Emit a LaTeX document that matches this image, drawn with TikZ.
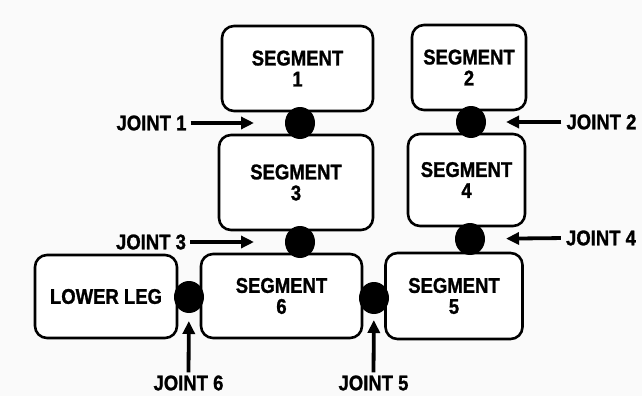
\documentclass[tikz,border=0pt]{standalone}
\usepackage{fontspec}
\usepackage{graphicx}
\setmainfont{Liberation Sans}
\newfontfamily\heavyfont[FakeBold=1.2]{Liberation Sans Bold}
\usetikzlibrary{arrows.meta,shapes.geometric}
\newcommand{\tallt}[1]{\scalebox{1}[1.15]{#1}}
\begin{document}
\begin{tikzpicture}[x=1pt,y=-1pt,
  seg/.style={draw=black,line width=2.6pt,rounded corners=12pt,fill=white,
    inner sep=0pt,align=center,font=\fontsize{18.5}{21}\selectfont\heavyfont},
  joint/.style={ellipse,fill=black,draw=none,inner sep=0pt,minimum width=30pt,minimum height=32pt},
  jlab/.style={inner sep=0pt,font=\fontsize{18.5}{21}\selectfont\heavyfont},
  jarrow/.style={line width=3.8pt,-{Triangle[length=13pt,width=12pt]}}]
\useasboundingbox[fill=gray!4] (0,0) rectangle (642,396);
% segments
\node[seg,minimum width=151pt,minimum height=85pt] (s1) at (297.5,68.5) {\tallt{SEGMENT}\\\tallt{1}};
\node[seg,minimum width=114pt,minimum height=85pt] (s2) at (469,67.5) {\tallt{SEGMENT}\\\tallt{2}};
\node[seg,minimum width=154pt,minimum height=95pt] (s3) at (296,182.5) {\tallt{SEGMENT}\\\tallt{3}};
\node[seg,minimum width=117pt,minimum height=92pt] (s4) at (466.5,180) {\tallt{SEGMENT}\\\tallt{4}};
\node[seg,minimum width=161pt,minimum height=84pt] (s6) at (281.5,296) {\tallt{SEGMENT}\\\tallt{6}};
\node[seg,minimum width=137pt,minimum height=86pt] (s5) at (454,296) {\tallt{SEGMENT}\\\tallt{5}};
\node[seg,minimum width=142pt,minimum height=83pt] (ll) at (106,296.5) {\tallt{LOWER LEG}};
% joints
\node[joint] (d1) at (300,123) {};
\node[joint] (d2) at (471,122) {};
\node[joint] (d3) at (300,242) {};
\node[joint] (d4) at (470,239) {};
\node[joint] (d5) at (374,298) {};
\node[joint] (d6) at (189,297) {};
% joint labels
\node[jlab] (l1) at (151.5,123) {\tallt{JOINT 1}};
\node[jlab] (l2) at (601.5,122) {\tallt{JOINT 2}};
\node[jlab] (l3) at (151,242) {\tallt{JOINT 3}};
\node[jlab] (l4) at (601,238) {\tallt{JOINT 4}};
\node[jlab] (l5) at (373.5,383) {\tallt{JOINT 5}};
\node[jlab] (l6) at (188.5,383) {\tallt{JOINT 6}};
% arrows
\draw[jarrow,shorten <=4pt,shorten >=46pt] (l1.east) -- (d1.center);
\draw[jarrow,shorten <=4pt,shorten >=46pt] (l3.east) -- (d3.center);
\draw[jarrow,shorten <=5pt,shorten >=35pt] (l2.west) -- (d2.center);
\draw[jarrow,shorten <=5pt,shorten >=36pt] (l4.west) -- (d4.center);
\draw[jarrow,shorten <=3pt,shorten >=22pt] (l5.north) -- (d5.center);
\draw[jarrow,shorten <=3pt,shorten >=24pt] (l6.north) -- (d6.center);
\end{tikzpicture}
\end{document}
